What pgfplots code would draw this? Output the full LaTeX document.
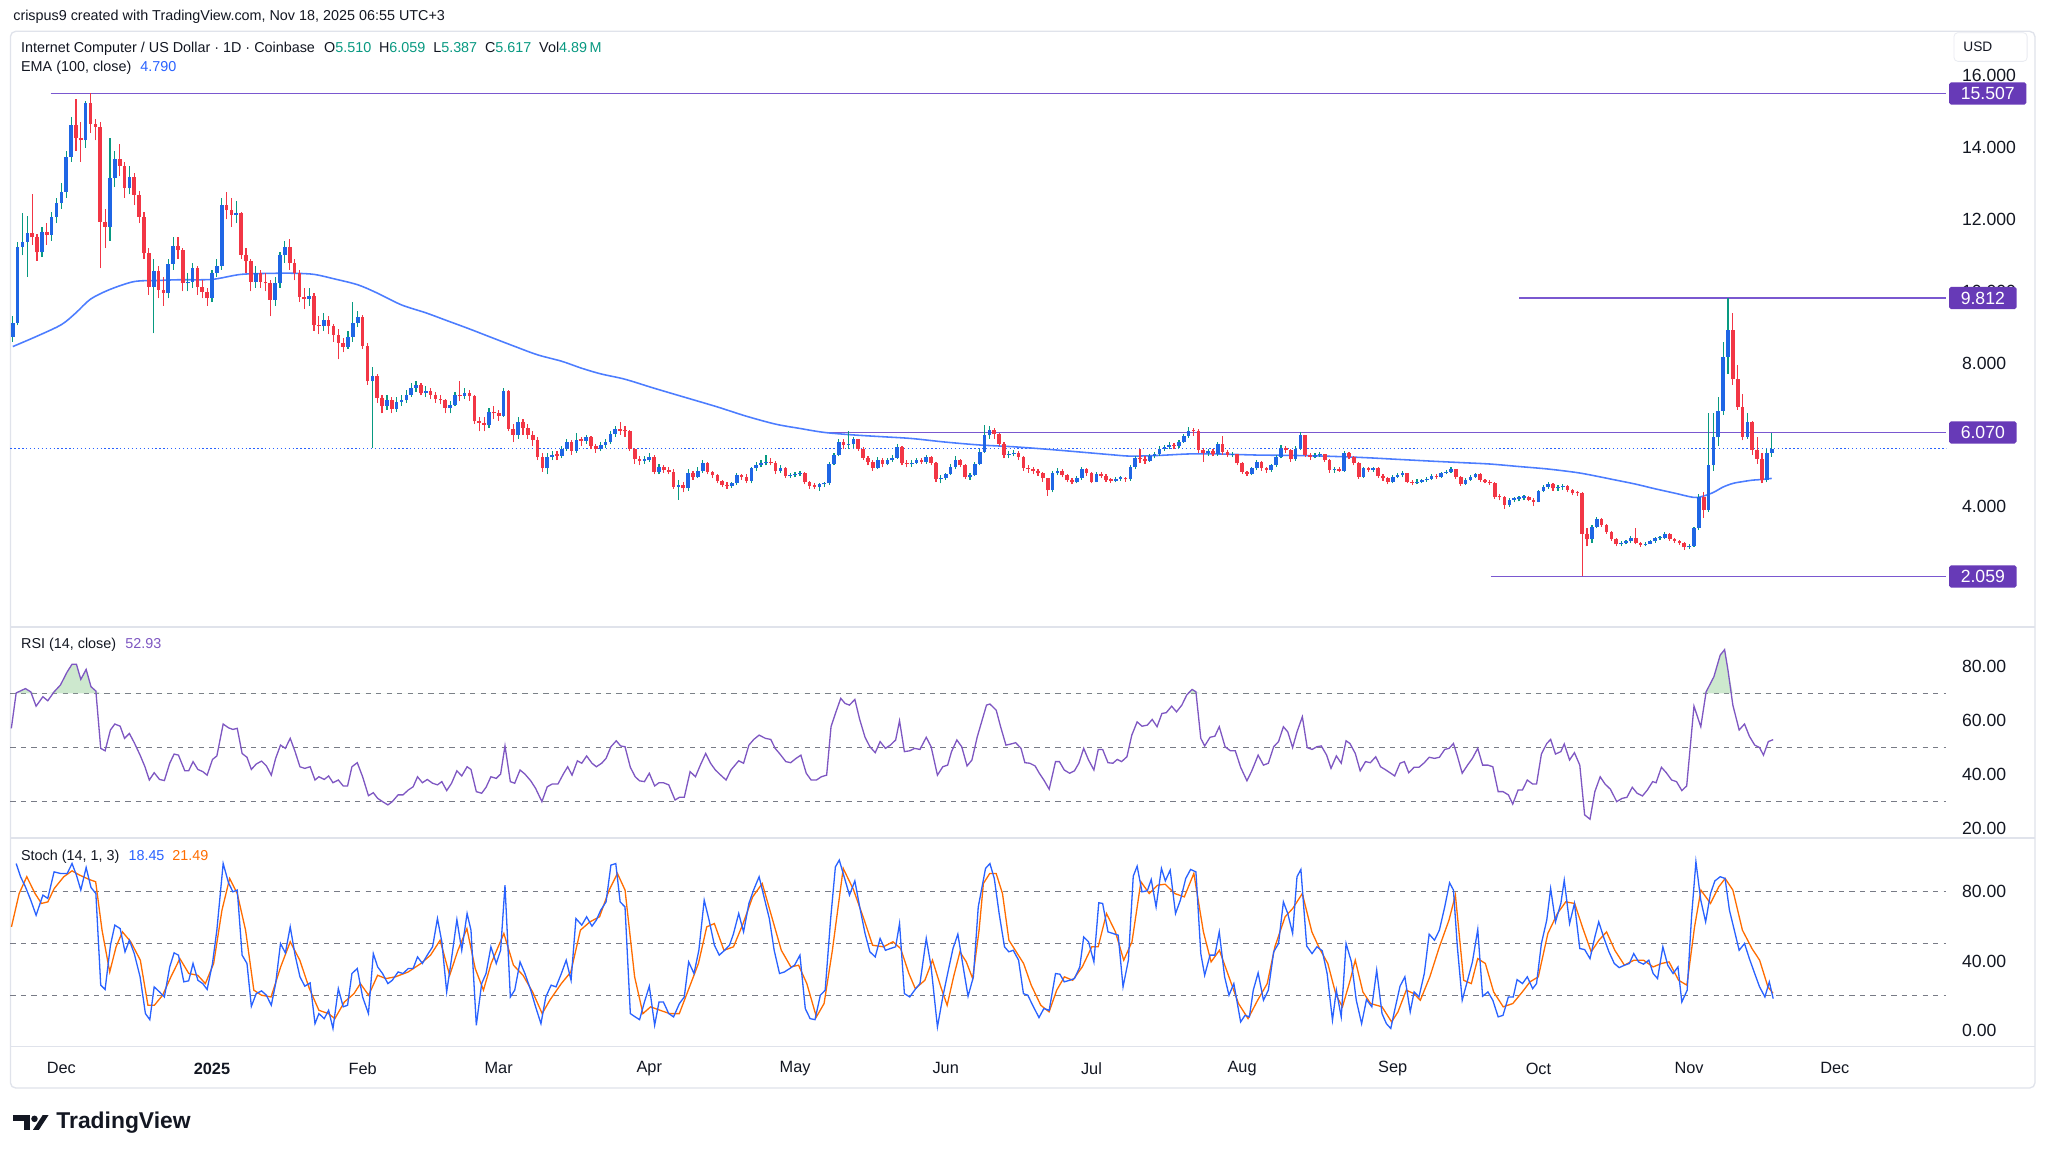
\documentclass[border=0pt]{standalone}
\usepackage{fontspec}
\setmainfont{Liberation Sans}
\usepackage{xcolor}
\usepackage{pgfplots}
\usepackage{pgfplotstable}
\pgfplotsset{compat=1.18}
\newcommand\fs[1]{\fontsize{#1}{#1}\selectfont}
\definecolor{tvtext}{HTML}{131722}
\definecolor{tvgrey}{HTML}{787B86}
\definecolor{tvborder}{HTML}{E0E3EB}
\definecolor{upbody}{HTML}{1F66E5}
\definecolor{upwick}{HTML}{089981}
\definecolor{downc}{HTML}{F23645}
\definecolor{emablue}{HTML}{4C7DFF}
\definecolor{lvl}{HTML}{7A58D0}
\definecolor{tagc}{HTML}{673AB7}
\definecolor{rsic}{HTML}{7E57C2}
\definecolor{stk}{HTML}{2962FF}
\definecolor{std}{HTML}{FF6D00}
\definecolor{valgreen}{HTML}{089981}
\definecolor{rsigreen}{HTML}{A5D6A7}

\pgfplotstableread{
d o h l c
-10 8.74 9.30 8.60 9.11
-9 9.11 11.38 9.05 11.24
-8 11.24 12.17 11.00 11.38
-7 11.38 12.10 10.41 11.63
-6 11.63 12.70 11.30 11.50
-5 11.50 11.60 10.85 11.08
-4 11.08 11.80 10.95 11.66
-3 11.66 11.90 11.30 11.57
-2 11.57 12.20 11.40 12.08
-1 12.08 12.60 11.90 12.45
0 12.45 13.00 12.30 12.77
1 12.77 13.90 12.60 13.75
2 13.75 14.85 13.60 14.63
3 14.63 15.35 13.90 14.26
4 14.26 14.70 13.60 14.20
5 14.20 15.30 14.00 15.23
6 15.23 15.507 14.40 14.67
7 14.67 14.80 14.20 14.58
8 14.58 14.70 10.64 11.94
9 11.94 12.30 11.20 11.80
10 11.80 14.26 11.40 13.14
11 13.14 13.90 12.90 13.67
12 13.67 14.10 13.20 13.49
13 13.49 13.60 12.60 12.87
14 12.87 13.50 12.70 13.17
15 13.17 13.30 12.40 12.68
16 12.68 12.80 11.90 12.08
17 12.08 12.20 10.90 11.06
18 11.06 11.20 9.90 10.13
19 10.13 10.90 8.83 10.55
20 10.55 10.70 9.80 10.04
21 10.04 10.40 9.60 9.95
22 9.95 10.90 9.80 10.76
23 10.76 11.50 10.60 11.26
24 11.26 11.50 10.90 11.15
25 11.15 11.20 10.00 10.22
26 10.22 10.50 10.00 10.27
27 10.27 10.80 10.10 10.64
28 10.64 10.70 9.90 10.13
29 10.13 10.30 9.80 9.99
30 9.99 10.10 9.60 9.81
31 9.81 10.60 9.70 10.50
32 10.50 10.90 10.40 10.69
33 10.69 12.60 10.60 12.40
34 12.40 12.75 12.00 12.26
35 12.26 12.60 11.80 12.12
36 12.12 12.50 11.90 12.17
37 12.17 12.20 10.90 11.01
38 11.01 11.20 10.50 10.83
39 10.83 10.90 10.00 10.27
40 10.27 10.70 10.10 10.50
41 10.50 10.60 10.10 10.27
42 10.27 10.50 10.00 10.22
43 10.22 10.30 9.30 9.76
44 9.76 10.40 9.60 10.22
45 10.22 11.10 10.10 11.01
46 11.01 11.40 10.80 11.24
47 11.24 11.45 10.60 10.78
48 10.78 10.90 10.30 10.50
49 10.50 10.60 9.70 9.85
50 9.85 10.10 9.50 9.78
51 9.78 10.10 9.60 9.87
52 9.87 9.95 8.90 9.06
53 9.06 9.30 8.80 9.02
54 9.02 9.40 8.90 9.20
55 9.20 9.30 8.80 9.02
56 9.02 9.10 8.60 8.79
57 8.79 8.95 8.10 8.56
58 8.56 8.70 8.30 8.46
59 8.46 8.90 8.40 8.74
60 8.74 9.70 8.60 9.11
61 9.11 9.45 9.00 9.28
62 9.28 9.35 8.40 8.48
63 8.48 8.55 7.40 7.49
64 7.49 7.90 5.63 7.63
65 7.63 7.70 6.90 7.03
66 7.03 7.10 6.60 6.80
67 6.80 7.10 6.70 6.98
68 6.98 7.05 6.60 6.72
69 6.72 7.05 6.65 6.93
70 6.93 7.10 6.80 6.96
71 6.96 7.25 6.90 7.12
72 7.12 7.45 7.05 7.31
73 7.31 7.50 7.20 7.40
74 7.40 7.45 7.10 7.18
75 7.18 7.35 7.05 7.22
76 7.22 7.30 7.00 7.12
77 7.12 7.20 6.90 7.00
78 7.00 7.10 6.85 6.96
79 6.96 7.00 6.60 6.75
80 6.75 6.95 6.60 6.84
81 6.84 7.20 6.80 7.12
82 7.12 7.50 6.95 7.08
83 7.08 7.30 7.00 7.16
84 7.16 7.25 6.95 7.07
85 7.07 7.10 6.30 6.38
86 6.38 6.50 6.10 6.33
87 6.33 6.50 6.10 6.29
88 6.29 6.75 6.20 6.63
89 6.63 6.80 6.45 6.60
90 6.60 6.70 6.40 6.53
91 6.53 7.30 6.50 7.21
92 7.21 7.25 6.10 6.17
93 6.17 6.30 5.80 6.00
94 6.00 6.50 5.90 6.35
95 6.35 6.45 6.00 6.20
96 6.20 6.30 5.90 6.00
97 6.00 6.10 5.70 5.87
98 5.87 5.95 5.30 5.39
99 5.39 5.50 4.98 5.07
100 5.07 5.50 4.90 5.39
101 5.39 5.55 5.30 5.44
102 5.44 5.55 5.30 5.42
103 5.42 5.70 5.35 5.62
104 5.62 5.90 5.55 5.81
105 5.81 5.85 5.45 5.56
106 5.56 6.05 5.50 5.86
107 5.86 5.95 5.70 5.84
108 5.84 6.00 5.75 5.93
109 5.93 5.98 5.60 5.69
110 5.69 5.75 5.50 5.62
111 5.62 5.80 5.55 5.72
112 5.72 5.90 5.65 5.81
113 5.81 6.10 5.75 6.02
114 6.02 6.25 5.95 6.17
115 6.17 6.35 6.00 6.12
116 6.12 6.25 5.95 6.10
117 6.10 6.15 5.55 5.60
118 5.60 5.65 5.20 5.32
119 5.32 5.40 5.15 5.28
120 5.28 5.40 5.20 5.30
121 5.30 5.50 5.25 5.39
122 5.39 5.45 4.90 4.97
123 4.97 5.20 4.90 5.11
124 5.11 5.15 4.95 5.02
125 5.02 5.10 4.90 4.98
126 4.98 5.05 4.50 4.56
127 4.56 4.75 4.19 4.60
128 4.60 4.70 4.40 4.51
129 4.51 5.05 4.45 4.95
130 4.95 5.00 4.75 4.82
131 4.82 5.10 4.80 5.00
132 5.00 5.30 4.95 5.21
133 5.21 5.25 4.90 4.97
134 4.97 5.00 4.80 4.88
135 4.88 4.90 4.65 4.72
136 4.72 4.75 4.55 4.60
137 4.60 4.68 4.50 4.57
138 4.57 4.70 4.52 4.65
139 4.65 4.95 4.60 4.88
140 4.88 4.92 4.75 4.84
141 4.84 4.90 4.65 4.72
142 4.72 5.12 4.65 5.07
143 5.07 5.25 5.00 5.16
144 5.16 5.30 5.10 5.22
145 5.22 5.45 5.15 5.25
146 5.25 5.35 5.15 5.22
147 5.22 5.27 4.90 4.99
148 4.99 5.15 4.95 5.09
149 5.09 5.12 4.80 4.85
150 4.85 4.95 4.80 4.88
151 4.88 4.98 4.82 4.91
152 4.91 5.00 4.85 4.93
153 4.93 4.97 4.62 4.68
154 4.68 4.72 4.50 4.58
155 4.58 4.65 4.50 4.56
156 4.56 4.66 4.45 4.62
157 4.62 4.70 4.55 4.65
158 4.65 5.25 4.60 5.20
159 5.20 5.50 5.15 5.44
160 5.44 5.90 5.40 5.81
161 5.81 5.90 5.60 5.72
162 5.72 6.12 5.60 5.74
163 5.74 5.95 5.65 5.88
164 5.88 5.90 5.55 5.62
165 5.62 5.66 5.30 5.37
166 5.37 5.42 5.15 5.25
167 5.25 5.30 5.00 5.09
168 5.09 5.38 5.05 5.30
169 5.30 5.35 5.10 5.19
170 5.19 5.35 5.15 5.30
171 5.30 5.45 5.25 5.37
172 5.37 5.75 5.33 5.67
173 5.67 5.70 5.15 5.21
174 5.21 5.30 5.10 5.19
175 5.19 5.30 5.12 5.23
176 5.23 5.35 5.18 5.30
177 5.30 5.35 5.20 5.25
178 5.25 5.45 5.20 5.39
179 5.39 5.42 5.15 5.22
180 5.22 5.25 4.70 4.76
181 4.76 4.88 4.65 4.79
182 4.79 4.95 4.75 4.91
183 4.91 5.18 4.88 5.11
184 5.11 5.42 5.05 5.30
185 5.30 5.32 5.10 5.16
186 5.16 5.20 4.78 4.82
187 4.82 4.95 4.75 4.88
188 4.88 5.25 4.85 5.20
189 5.20 5.60 5.15 5.53
190 5.53 6.27 5.50 5.99
191 5.99 6.25 5.90 6.14
192 6.14 6.20 5.90 6.02
193 6.02 6.05 5.70 5.76
194 5.76 5.80 5.35 5.44
195 5.44 5.55 5.35 5.47
196 5.47 5.58 5.40 5.50
197 5.50 5.55 5.30 5.39
198 5.39 5.42 5.00 5.09
199 5.09 5.15 4.95 5.05
200 5.05 5.10 4.90 4.99
201 4.99 5.05 4.85 4.93
202 4.93 4.97 4.70 4.79
203 4.79 4.80 4.30 4.46
204 4.46 5.00 4.40 4.93
205 4.93 5.08 4.88 5.00
206 5.00 5.05 4.82 4.88
207 4.88 4.92 4.68 4.74
208 4.74 4.80 4.62 4.70
209 4.70 4.85 4.65 4.79
210 4.79 5.10 4.75 5.04
211 5.04 5.08 4.87 4.93
212 4.93 4.96 4.65 4.70
213 4.70 4.96 4.68 4.91
214 4.91 4.98 4.80 4.86
215 4.86 4.90 4.70 4.74
216 4.74 4.80 4.66 4.72
217 4.72 4.82 4.68 4.78
218 4.78 4.85 4.72 4.80
219 4.80 4.84 4.70 4.76
220 4.76 5.15 4.72 5.11
221 5.11 5.42 5.05 5.35
222 5.35 5.60 5.22 5.32
223 5.32 5.40 5.20 5.28
224 5.28 5.46 5.25 5.41
225 5.41 5.52 5.35 5.46
226 5.46 5.68 5.40 5.62
227 5.62 5.72 5.55 5.67
228 5.67 5.80 5.60 5.72
229 5.72 5.78 5.60 5.69
230 5.69 5.86 5.65 5.81
231 5.81 6.02 5.78 5.97
232 5.97 6.22 5.92 6.12
233 6.12 6.18 5.98 6.10
234 6.10 6.16 5.50 5.58
235 5.58 5.65 5.25 5.50
236 5.50 5.62 5.42 5.55
237 5.55 5.60 5.40 5.46
238 5.46 5.80 5.42 5.76
239 5.76 5.97 5.45 5.53
240 5.53 5.58 5.38 5.44
241 5.44 5.52 5.38 5.46
242 5.46 5.48 5.15 5.21
243 5.21 5.25 4.92 4.97
244 4.97 5.00 4.85 4.91
245 4.91 5.12 4.88 5.07
246 5.07 5.30 5.02 5.25
247 5.25 5.28 5.00 5.07
248 5.07 5.10 4.95 5.02
249 5.02 5.20 4.98 5.16
250 5.16 5.45 5.12 5.39
251 5.39 5.72 5.35 5.65
252 5.65 5.70 5.50 5.58
253 5.58 5.60 5.25 5.32
254 5.32 5.70 5.28 5.62
255 5.62 6.08 5.58 5.99
256 5.99 6.00 5.38 5.44
257 5.44 5.50 5.30 5.38
258 5.38 5.50 5.35 5.43
259 5.43 5.52 5.38 5.46
260 5.46 5.48 5.25 5.30
261 5.30 5.32 4.95 5.02
262 5.02 5.10 4.95 5.04
263 5.04 5.10 4.98 5.00
264 5.00 5.55 4.98 5.50
265 5.50 5.52 5.32 5.39
266 5.39 5.42 5.15 5.22
267 5.22 5.25 4.78 4.83
268 4.83 5.12 4.80 5.07
269 5.07 5.12 4.98 5.03
270 5.03 5.12 4.98 5.07
271 5.07 5.10 4.80 4.85
272 4.85 4.90 4.72 4.79
273 4.79 4.82 4.62 4.69
274 4.69 4.88 4.65 4.83
275 4.83 4.95 4.80 4.88
276 4.88 5.00 4.82 4.93
277 4.93 4.95 4.65 4.69
278 4.69 4.75 4.60 4.66
279 4.66 4.76 4.62 4.70
280 4.70 4.78 4.66 4.74
281 4.74 4.82 4.70 4.78
282 4.78 4.90 4.75 4.85
283 4.85 4.90 4.78 4.82
284 4.82 4.98 4.80 4.94
285 4.94 5.02 4.90 4.98
286 4.98 5.12 4.95 5.04
287 5.04 5.06 4.78 4.83
288 4.83 4.86 4.58 4.63
289 4.63 4.80 4.60 4.75
290 4.75 4.88 4.72 4.83
291 4.83 4.95 4.80 4.91
292 4.91 4.93 4.70 4.74
293 4.74 4.78 4.65 4.70
294 4.70 4.74 4.60 4.66
295 4.66 4.68 4.22 4.28
296 4.28 4.35 4.18 4.26
297 4.26 4.30 3.95 4.05
298 4.05 4.25 4.00 4.20
299 4.20 4.28 4.12 4.22
300 4.22 4.30 4.15 4.25
301 4.25 4.32 4.18 4.28
302 4.28 4.30 4.15 4.20
303 4.20 4.24 4.02 4.14
304 4.14 4.48 4.12 4.44
305 4.44 4.60 4.40 4.55
306 4.55 4.68 4.50 4.63
307 4.63 4.66 4.45 4.51
308 4.51 4.60 4.45 4.55
309 4.55 4.62 4.48 4.57
310 4.57 4.60 4.40 4.46
311 4.46 4.50 4.32 4.38
312 4.38 4.45 4.30 4.37
313 4.37 4.40 2.059 3.24
314 3.24 3.40 2.90 3.09
315 3.09 3.50 3.00 3.44
316 3.44 3.72 3.40 3.67
317 3.67 3.70 3.45 3.49
318 3.49 3.52 3.25 3.30
319 3.30 3.32 3.05 3.09
320 3.09 3.12 2.90 2.96
321 2.96 3.05 2.90 2.99
322 2.99 3.08 2.95 3.04
323 3.04 3.18 3.00 3.14
324 3.14 3.40 2.95 2.99
325 2.99 3.02 2.88 2.93
326 2.93 3.02 2.90 2.97
327 2.97 3.08 2.95 3.04
328 3.04 3.16 3.00 3.12
329 3.12 3.18 3.08 3.14
330 3.14 3.30 3.10 3.25
331 3.25 3.28 3.05 3.10
332 3.10 3.14 3.00 3.06
333 3.06 3.08 2.94 2.99
334 2.99 3.02 2.80 2.87
335 2.87 2.95 2.82 2.90
336 2.90 3.45 2.88 3.40
337 3.40 4.35 3.35 4.26
338 4.26 4.40 3.70 3.91
339 3.91 6.60 3.85 5.16
340 5.16 6.60 5.00 5.93
341 5.93 7.05 5.70 6.67
342 6.67 8.60 6.55 8.18
343 8.18 9.812 7.70 8.92
344 8.92 9.40 7.40 7.55
345 7.55 7.95 6.70 6.78
346 6.78 7.15 5.85 5.95
347 5.95 6.60 5.90 6.37
348 6.37 6.40 5.45 5.58
349 5.58 5.95 5.20 5.34
350 5.34 5.50 4.65 4.74
351 4.74 5.62 4.68 5.51
352 5.51 6.059 5.387 5.617
}\ohlc

\pgfplotstableread{
d v
-10 8.46
-5 8.75
0 9.07
3 9.40
6 9.78
10 10.05
15 10.27
20 10.30
24 10.32
31 10.33
37 10.47
44 10.50
48 10.50
52 10.47
56 10.35
61 10.18
65 9.95
70 9.62
75 9.40
79 9.20
84 8.95
88 8.74
93 8.48
98 8.23
103 8.05
107 7.86
111 7.70
116 7.55
122 7.30
129 7.02
135 6.78
141 6.52
147 6.30
152 6.18
157 6.07
163 6.00
169 5.95
175 5.90
182 5.80
189 5.72
196 5.67
203 5.60
210 5.52
216 5.45
220 5.41
226 5.43
232 5.47
238 5.47
246 5.44
253 5.43
260 5.41
268 5.37
275 5.32
282 5.27
288 5.23
294 5.19
300 5.12
306 5.05
312 4.95
316 4.85
320 4.74
324 4.63
328 4.50
332 4.38
336 4.26
338 4.30
340 4.40
342 4.55
344 4.65
346 4.70
348 4.74
350 4.76
352 4.79
}\ema

\pgfplotstableread{
d v
-10.3 57.1
-9.3 70.2
-7.4 71.8
-6.3 70.6
-5.2 65.3
-3.8 68.8
-2.8 67.3
-1.5 70.6
-0.2 73.1
1.2 78
2.2 80.8
3.1 80.8
4 75.2
5.1 78.9
6.1 72.5
7.1 70.9
8.1 49.7
9 48.8
10.1 56.5
11 58.7
12.1 57.9
13 53.4
14 55.2
15 51.8
16.2 47.2
17.2 42.9
18.1 38
19.1 40.7
20.2 38.2
21.2 37.8
22.3 44.2
23.2 47.6
24.1 47.2
25.4 41.4
26.2 41.4
27.1 44.8
28.1 41.9
29.1 41.1
30 39.8
31.1 45.6
32 46.9
33.3 58.7
34.4 57.3
35.3 56.7
36.2 57.1
37.2 47.8
38.2 46.4
39.1 41.9
40.1 43.9
41.2 45
42.2 43.2
43.2 39.8
44.1 46
45.1 50.9
46.1 49.7
47.1 53.4
48.1 48.5
49.1 42.9
50.1 42.3
51.2 42.9
52.2 38
53 39.2
54.1 38.2
55 39.5
55.9 37
57 38
58 35.8
58.9 35.8
59.8 42.9
60.9 44.4
62 39.2
63.2 32.2
64.2 33.3
65.1 31.2
66.1 30
67.2 28.8
68.1 30
69.3 32.5
70.3 32.5
71.4 34.3
72.4 35.5
73.3 39.2
74.3 37
75.3 38.2
76.4 36.8
77.4 36.2
78.3 37.4
79.3 34.1
80.3 36.8
81.4 41.4
82.4 39.5
83.5 42.9
84.3 41.9
85.4 33.7
86.5 33.1
87.4 35.3
88.4 39.2
89.5 38.6
90.4 40.2
91.3 50.6
92.4 37.4
93.3 36.8
94.4 41.7
95.4 40.2
96.6 37.7
97.6 34.9
98.9 30
100 35.5
101 36.5
102.2 36.5
103.3 40.2
104.2 42.9
105.1 39.8
106.2 45.1
107.1 44.2
108.1 46.9
109.2 44.2
110.1 42.9
111.2 44.2
112.1 46
113.1 50.3
114.2 52.5
115.1 50.6
116 50.3
117.1 42.7
118.1 39.2
119 37.7
120 37.4
121 40.5
122.1 35.8
123 37
123.9 37
125 36.2
126.3 30.6
127.2 31.6
128.2 31.6
129.4 41.1
130.5 39.2
131.5 43.5
132.6 47.8
133.6 44.2
134.6 41.7
135.7 39.8
136.8 38
137.8 41.7
139.4 45.1
140.4 44.2
141.5 50.9
142.5 53
143.6 54.6
144.9 53.4
146 53
146.9 49.7
147.8 47.8
149.1 44.8
150.1 44.4
151.2 46
152.2 47.2
153.3 40.5
154.3 38
155.4 38
156.4 39.2
157.5 39.8
158.4 57.7
159.3 62.6
160.4 68.2
161.3 66.3
162.2 65.7
163.3 67.8
164.3 60.4
165.4 53.8
166.4 50.3
167.5 48.1
168.5 52.2
169.6 49.7
170.6 50.9
171.7 52.8
172.5 59.9
173.5 48.5
174.6 48.8
175.6 49.7
176.7 49.3
178 53.8
179 50.3
180.3 39.8
181.4 42.9
182.4 43.5
183.2 48.5
184.3 52.8
185.3 50.3
186.4 43.2
187.4 45.4
188.5 54
190.4 65.7
191.1 66.1
192.4 63.8
193.3 57.7
194.4 50.9
195.4 51.3
196.4 51.8
197.5 49.7
198.3 44.4
199.3 44.2
200.4 43.2
201.2 40.7
202.2 38
203.3 34.6
204.6 44.8
205.4 44.8
206.4 41.7
207.5 40.5
208.5 41.4
209.4 44.2
210.4 49.7
211.4 45.4
212.5 41.7
213.4 49.3
214.3 49.3
215.4 44.4
216.4 44.2
217.3 45.6
218.2 44.8
219.3 46.6
220.3 54.6
221.4 59.5
222.4 57.9
223.5 58.3
224.5 60.4
225.5 57.7
226.5 62.6
227.4 62.9
228.5 65.3
229.5 63.2
230.6 65.7
231.6 69.4
232.7 71.5
233.5 70.6
234.5 53.4
235.3 50.6
236.4 53.8
237.4 54.2
238.3 57.7
239.5 50.3
240.6 48.8
241.6 48.8
242.7 42.7
244 37.7
245 41.4
246.3 47.2
247.4 43.5
248.4 44.2
249.5 50.3
250.5 52.2
251.5 57.7
252.4 55.8
253.4 50
254.3 55.8
255.4 61.4
256.4 50
257.4 49.3
258.4 50.3
259.3 50.6
260.4 47.2
261.3 42.3
262.4 46.9
263.4 44.2
264.4 52.5
265.2 51.5
266.3 47.8
267.3 41.4
268.4 44.8
269.4 44.4
270.5 46.6
271.5 42.9
272.6 41.7
273.6 40.5
274.4 39.5
275.5 44.2
276.4 44.8
277.3 40.7
278.4 42.7
279.4 42.7
280.5 44.4
281.5 46.4
282.6 46
283.6 46.4
284.7 49.3
285.6 49.7
286.5 51.5
287.3 46.9
288.3 40.5
289.4 43.5
290.4 46
291.5 49.7
292.5 43.5
293.6 43.5
294.6 42.9
295.7 33.7
296.7 33.7
297.8 32.5
298.7 29.1
299.8 34.3
300.7 34.3
301.7 38
302.8 36.5
303.6 36.5
304.6 47.6
305.7 51.5
306.5 53
307.5 47.6
308.6 48.5
309.3 51.3
310.4 45.4
311.4 48.1
312.5 43.5
313.5 25.1
314.6 23.5
315.6 33.7
316.7 39.2
317.7 36.5
318.8 34.6
320.1 30
321.2 31.2
322.2 31.6
323.3 35.3
324.3 33.1
325.4 32.1
326.4 34.3
327.5 37.4
328.2 37
329.3 42.7
330.3 40.7
331.4 38
332.4 37.4
333.5 34.1
334.5 35.8
336 65.3
337.4 57.7
338.5 70.6
340.1 76.2
341.4 84.2
342.3 86.2
343 78.6
344 65.7
345.3 56.5
346.4 58.7
347.4 54.2
348.5 50.9
349.5 50
350.3 47.2
351.3 52.2
352.3 52.93
}\rsi

\pgfplotstableread{
d v
-9.3 96.3
-8.4 88.7
-7.4 82.9
-6.3 75.2
-5.2 66.5
-3.8 78.1
-2.8 76.2
-1.5 91.5
-0.2 90.6
1.2 90.6
2.2 96.3
3.1 89.6
4 81
5.1 94
6.1 82.5
7.1 79
8.1 26.2
9 23.7
10.1 49.2
11 60.8
12.1 58.8
13.1 45.4
14 52.1
15 44.4
16.2 31
17.3 9.8
18.2 6.3
19.1 25.2
20.2 22.3
21.2 19.4
22.3 36.7
23.2 44.8
24.1 43.5
25.2 28.1
26.2 28.7
27.1 38.7
28.1 29
29.1 27.1
30 23.7
31.1 38.7
32 57.9
33.3 96.3
34.4 85.2
35.3 80
36.2 81
37.2 43.5
38.2 38.7
39.1 14
40.1 21.3
41.2 22.9
42.2 20.4
43.2 14.6
44.1 27.1
45.1 50.2
46.1 44.8
47.1 59.8
48.1 43.5
49.1 31
50.1 25.6
51.2 27.5
52.2 4
53 9.8
54.1 6.9
55 11.7
55.9 1.2
57 24.2
58 13.7
58.9 14.6
59.8 32.9
60.9 35.8
62 19.4
63.2 9.8
64.2 44.4
65.1 36.7
66.1 32.9
67.2 27.1
68.1 29
69.3 33.8
70.3 32.9
71.4 35.8
72.4 35.8
73.3 42.5
74.3 38.7
75.3 43.5
76.4 48.3
77.4 64.6
78.3 51.2
79.3 22.3
80.3 41.5
81.4 64
82.4 46.3
83.5 67.5
84.3 57.9
85.4 3.1
86.5 27.1
87.4 32.9
88.4 48.3
89.5 38.7
90.4 46.3
91.3 83.8
92.4 19.4
93.3 23.3
94.4 39.6
95.4 32.9
96.6 23.3
97.6 13.7
98.7 4
99.7 19.4
100.8 26.2
101.8 25.2
102.9 32.9
103.9 40.6
104.9 29
105.9 64.6
107.1 60.8
108.1 65.6
109.2 60.2
110.1 63.7
111 69.4
112.1 74.2
113.1 95.4
114.1 96.3
115 74.2
116 71.3
117.1 9.8
118.1 7.9
119 6.3
120 16.5
121 25.6
122.1 3.1
123 16.5
123.9 16.5
125 9.8
126 7.9
127.2 15.6
128.2 19.4
129.1 39.6
130.2 32.9
131.2 46.3
132.3 75.2
133.3 63.7
134.4 49.2
135.4 43.5
136.5 46.3
137.5 49.2
138.3 55.6
139.4 67.5
140.4 56.9
141.5 73.3
142.5 81.3
143.6 88.7
144.6 77.1
145.7 64.6
146.7 46.3
147.8 32.9
148.8 33.8
149.9 35.8
150.9 37.7
152 43.5
153.1 12.7
154.1 6.9
155.1 6.3
156.2 20.4
157.2 23.3
158.3 63.7
159.3 94.4
160.1 98.3
161.2 87.7
162.2 78.1
163.3 86.3
164.3 71.3
165.4 56
166.4 45.4
167.5 42.5
168.5 53.1
169.6 46.3
170.6 47.3
171.7 48.3
172.5 61.7
173.5 21.3
174.6 19.4
175.6 23.3
176.7 27.1
178 53.1
179 36.7
180.3 2.1
181.4 19.4
182.4 32.9
183.5 47.3
184.5 55.6
185.6 36.7
186.6 19.8
187.7 31
188.7 71.3
190.2 93.5
191.1 96.3
192 87.7
193 67.5
194.1 48.3
195 45.4
195.9 46.3
197 40.6
198 21.3
198.9 20.4
199.9 14.6
201.2 7.5
202.2 12.7
203.3 11.7
204.6 32.9
205.5 32.5
206.4 28.1
207.5 29
208.5 30
209.6 36.7
210.4 54
211.4 51.2
212.5 39.6
213.5 73.7
214.3 73.3
215.4 56.9
216.4 56
217.5 55
218.5 25.2
219.6 40.6
220.6 89
221.4 94.8
222.4 80
223.5 80.6
224.3 87.1
225.3 71.3
226.4 93.5
227.2 86.3
228.2 92.5
229.3 67.5
230.3 75.2
231.4 87.7
232.4 92.9
233.5 91.5
234.5 44.4
235.3 31.9
236.4 43.5
237.4 43.5
238.3 56.9
239.4 31
240.3 20.4
241.3 27.1
242.7 5
243.6 8.8
244.5 7.9
245.3 23.3
246.3 33.3
247.4 17.5
248.4 23.3
249.5 45.4
250.5 50.2
251.5 74.2
252.4 67.5
253.4 56
254.3 88.7
255.1 92.9
256.3 48.7
257.4 44.4
258.4 48.3
259.5 46
260.5 32.9
261.6 6
262.4 23.3
263.4 7.9
264.4 50.2
265.5 39.6
266.5 17.5
267.6 4
268.6 17.9
269.7 13.7
270.7 34.8
271.8 9.8
272.7 4
273.6 1.2
274.4 11.7
275.5 25.6
276.5 31
277.6 10.8
278.4 22.3
279.4 19.4
280.5 32.9
281.5 55.6
282.6 52.1
283.6 57.9
284.7 71.3
285.7 85.2
286.5 81
287.3 48.3
288.3 17.5
289.4 29
290.4 39.6
291.5 58.3
292.5 19.8
293.6 22.3
294.6 17.5
295.7 7.9
296.7 8.8
297.8 19.4
298.8 19.4
299.6 29.4
300.7 27.1
301.7 31
302.8 24.2
303.6 27.1
304.6 50.2
305.7 63.7
306.5 81.9
307.5 62.7
308.6 73.3
309.3 86.7
310.4 61.7
311.4 73.3
312.5 47.3
313.5 46.7
314.6 41.5
315.6 54
316.4 62.7
317.5 53.1
318.5 45.4
319.6 38.7
320.6 36.3
321.7 37.7
322.7 38.7
323.6 44.4
324.6 39.6
325.6 38.3
326.7 40.6
327.6 32.9
328.5 30
329.6 48.3
330.6 37.7
331.7 32.9
332.7 36.7
333.5 16.5
334.6 23.3
335.5 65.6
336.4 97.3
337.4 75.2
338.4 62.7
339.4 79
340.3 86.3
341.4 88.7
342.4 87.7
343.3 69.4
344.3 57.9
345.3 46.3
346.4 50.2
347.4 41.5
348.5 32.9
349.5 25.2
350.6 19.4
351.5 28.1
352.3 18.45
}\stochk

\pgfplotstableread{
d v
-10.27 59.8
-8.69 79
-7.12 88.7
-5.41 79
-4.10 73.3
-2.78 74.2
-1.47 81.9
0.5 88.7
2.2 92.1
3.78 89.6
5.75 87.1
7.06 85.8
8.37 57.9
9.95 33.8
11.26 48.3
12.57 56.9
14.28 51.2
16.25 40.6
17.82 14.6
19.14 14.6
20.84 20.4
22.55 31
24.39 41.5
26.23 32.9
28.06 31.9
29.64 27.1
31.34 38.7
33.05 69.4
34.63 87.7
36.2 79
37.91 57.9
39.61 23.3
41.19 20.4
43.16 19.4
45.13 36.7
47.1 51.2
49.07 40.6
51.04 24.2
53.0 11.7
54.97 9.8
56.29 6.9
58.25 16.5
60.22 21.3
61.54 27.1
63.24 20.4
65.08 31.9
66.79 30
68.76 31
71.38 33.8
74.0 38.7
75.98 43.5
77.95 52.1
79.91 31.9
81.62 46.3
83.46 58.8
85.17 35.8
86.87 23.3
88.45 38.7
91.07 56
93.04 37.7
95.01 31.9
96.98 22.3
98.95 9.8
100.52 17.5
102.89 27.1
104.85 33.8
106.82 57.9
108.79 62.7
110.76 65.6
112.73 81
114.44 90.6
116.01 81
117.98 31
119.69 9.8
121.27 13.7
123.23 11.7
125.2 9.8
127.17 9.8
129.14 24.2
131.11 38.7
132.82 59.8
134.39 61.7
136.36 46.3
138.33 48.3
140.3 61.7
142.27 77.1
144.24 84.8
146.2 65.6
148.17 46.3
150.14 36.7
151.72 37.7
153.42 27.1
155.39 7.9
156.97 15.6
158.68 46.3
160.91 93.5
163.01 81.3
165.24 63.7
166.95 49.2
169.18 48.3
171.15 51.2
172.73 47.3
174.43 32.9
175.74 24.2
177.71 29
179.28 40.6
180.99 25.2
182.3 14.6
183.62 31
184.93 45.4
186.24 39.6
187.55 30
188.87 57.9
189.76 84.8
191.07 90.6
192.38 90.6
193.69 79
195.01 52.1
196.32 46.3
198.03 38.7
199.6 26.2
201.57 14.6
203.28 10.8
204.85 23.3
206.43 31
208.13 29
210.1 36.7
212.07 48.3
213.38 48.3
215.09 67.5
216.93 56.9
218.64 40.6
220.34 51.2
222.18 85.8
223.89 79
225.59 83.8
227.17 84.4
229.14 79
231.11 77.1
233.07 90.6
235.04 56.9
236.62 39.6
238.33 46.3
240.29 31
242.26 15.6
244.23 6.9
246.2 17.5
248.17 27.1
249.75 48.3
251.85 65.6
253.42 70.4
255.39 79
257.36 56.9
258.93 47.3
260.64 38.7
262.35 20.4
263.66 13.7
265.24 29
266.29 40.6
267.86 22.3
269.44 15.6
271.8 13.7
273.77 5
275.08 10.8
276.79 23.3
278.36 21.3
279.68 17.5
281.64 31
283.61 48.3
285.58 63.7
286.9 78.1
288.6 29
290.18 27.1
291.49 41.5
293.06 38.7
294.77 22.3
296.74 13.7
298.71 15.6
300.68 22.3
302.25 28.1
303.96 31
305.93 56
307.9 67.5
309.6 74.2
311.44 73.3
313.15 58.8
314.85 45.4
316.43 52.1
318.01 56.9
319.71 46.3
321.68 37.7
323.65 40.6
325.62 40.6
327.59 36.7
329.3 38.7
330.87 39.6
332.84 29
334.54 26.2
336.12 59.8
337.43 81
339.4 73.3
341.11 82.9
342.42 87.7
344 81
345.97 57.9
347.94 47.3
349.51 40.6
351.22 25.2
352.27 21.49
}\stochd

\begin{document}
\begin{tikzpicture}[x=1pt,y=1pt]
\fill[white] (0,0) rectangle (1568,887);
\draw[tvborder, line width=1pt, rounded corners=4pt] (8,54) rectangle (1558,863);
\draw[tvborder, line width=1.6pt] (8,407) -- (1558,407);
\draw[tvborder, line width=1.6pt] (8,245.5) -- (1558,245.5);
\draw[tvborder, line width=0.8pt] (8,86) -- (1558,86);

\node[anchor=west, inner sep=0, font=\fs{11}, text=tvtext] at (10,874) {crispus9 created with TradingView.com, Nov 18, 2025 06:55 UTC+3};

% ---------------- price pane
\begin{axis}[
  at={(8pt,407pt)}, anchor=south west, scale only axis,
  width=1482pt, height=456pt,
  xmin=-10.48, xmax=387.9, ymin=0.6545, ymax=17.236,
  axis line style={draw=none}, xtick=\empty,
  ytick={4,8,12,14},
  yticklabels={4.000,8.000,12.000,14.000},
  yticklabel pos=right, major tick length=0pt, ytick style={draw=none},
  yticklabel style={anchor=west, inner sep=0pt, xshift=12pt, font=\fs{13.5}, text=tvtext},
  clip=false,
]
\addplot[lvl, line width=1.1pt, forget plot] coordinates {(-2.2,15.507) (387.9,15.507)};
\addplot[lvl, line width=1.1pt, forget plot] coordinates {(300,9.812) (387.9,9.812)};
\addplot[lvl, line width=1.1pt, forget plot] coordinates {(157,6.070) (387.9,6.070)};
\addplot[lvl, line width=1.1pt, forget plot] coordinates {(294.2,2.059) (387.9,2.059)};
\addplot[stk, line width=0.8pt, dash pattern=on 1pt off 2pt, forget plot] coordinates {(-10.48,5.617) (387.9,5.617)};
\addplot[emablue, line width=1.2pt, smooth, forget plot] table[x=d, y=v] {\ema};
\addplot[draw=none, no markers, forget plot,
  restrict expr to domain={\thisrow{c}-\thisrow{o}}{0:100},
  error bars/.cd, y dir=plus, y explicit, error mark=none,
  error bar style={line width=0.9pt, draw=upwick, solid}]
  table[x=d, y=l, y error plus expr={\thisrow{h}-\thisrow{l}}] {\ohlc};
\addplot[draw=none, no markers, forget plot,
  restrict expr to domain={\thisrow{c}-\thisrow{o}}{-100:-0.0001},
  error bars/.cd, y dir=plus, y explicit, error mark=none,
  error bar style={line width=0.9pt, draw=downc, solid}]
  table[x=d, y=l, y error plus expr={\thisrow{h}-\thisrow{l}}] {\ohlc};
\addplot[draw=none, no markers, forget plot,
  restrict expr to domain={\thisrow{c}-\thisrow{o}}{0:100},
  error bars/.cd, y dir=plus, y explicit, error mark=none,
  error bar style={line width=2.8pt, draw=upbody, solid}]
  table[x=d, y=o, y error plus expr={max(\thisrow{c}-\thisrow{o},0.04)}] {\ohlc};
\addplot[draw=none, no markers, forget plot,
  restrict expr to domain={\thisrow{c}-\thisrow{o}}{-100:-0.0001},
  error bars/.cd, y dir=plus, y explicit, error mark=none,
  error bar style={line width=2.8pt, draw=downc, solid}]
  table[x=d, y=c, y error plus expr={max(\thisrow{o}-\thisrow{c},0.04)}] {\ohlc};
% price-scale labels that the tags partly cover
\node[anchor=west, inner sep=0pt, xshift=12pt, font=\fs{13.5}, text=tvtext] at (axis cs:387.9,16) {16.000};
\node[anchor=west, inner sep=0pt, xshift=12pt, font=\fs{13.5}, text=tvtext] at (axis cs:387.9,10) {10.000};
\node[anchor=west, inner sep=0pt, xshift=12pt, font=\fs{13.5}, text=tvtext] at (axis cs:387.9,6) {6.000};
\node[anchor=west, inner sep=0pt, xshift=12pt, font=\fs{13.5}, text=tvtext] at (axis cs:387.9,2) {2.000};
% tags
\node[anchor=west, xshift=2pt, fill=tagc, text=white, font=\fs{13.5}, inner xsep=9pt, inner ysep=0pt, minimum height=17pt, rounded corners=1.5pt] at (axis cs:387.9,15.507) {15.507};
\node[anchor=west, xshift=2pt, fill=tagc, text=white, font=\fs{13.5}, inner xsep=9pt, inner ysep=0pt, minimum height=17pt, rounded corners=1.5pt] at (axis cs:387.9,9.812) {9.812};
\node[anchor=west, xshift=2pt, fill=tagc, text=white, font=\fs{13.5}, inner xsep=9pt, inner ysep=0pt, minimum height=17pt, rounded corners=1.5pt] at (axis cs:387.9,6.070) {6.070};
\node[anchor=west, xshift=2pt, fill=tagc, text=white, font=\fs{13.5}, inner xsep=9pt, inner ysep=0pt, minimum height=17pt, rounded corners=1.5pt] at (axis cs:387.9,2.059) {2.059};
\end{axis}

% ---------------- RSI pane
\begin{axis}[
  at={(8pt,245.5pt)}, anchor=south west, scale only axis,
  width=1482pt, height=161.5pt,
  xmin=-10.48, xmax=387.9, ymin=16.6, ymax=94.6,
  axis line style={draw=none}, xtick=\empty,
  ytick={20,40,60,80}, yticklabels={20.00,40.00,60.00,80.00},
  yticklabel pos=right, major tick length=0pt, ytick style={draw=none},
  yticklabel style={anchor=west, inner sep=0pt, xshift=12pt, font=\fs{13.5}, text=tvtext},
  extra y ticks={30,50,70}, extra y tick labels={},
  extra y tick style={grid=major, major grid style={tvgrey, line width=0.8pt, dash pattern=on 4pt off 4pt}},
  clip=false,
]
\addplot[fill=rsigreen, fill opacity=0.55, draw=none, forget plot] table[x=d, y expr={max(\thisrow{v},70)}] {\rsi} -- (axis cs:352.3,70) -- (axis cs:-10.3,70) -- cycle;
\addplot[rsic, line width=1pt, forget plot] table[x=d, y=v] {\rsi};
\end{axis}

% ---------------- Stoch pane
\begin{axis}[
  at={(8pt,86pt)}, anchor=south west, scale only axis,
  width=1482pt, height=159.5pt,
  xmin=-10.48, xmax=387.9, ymin=-9.0, ymax=111.1,
  axis line style={draw=none},
  xtick={0,31,62,90,121,151,182,212,243,274,304,335,365},
  xticklabels={Dec,\textbf{2025},Feb,Mar,Apr,May,Jun,Jul,Aug,Sep,Oct,Nov,Dec},
  xtick style={draw=none},
  xticklabel style={anchor=center, yshift=-17pt, font=\fs{12.5}, text=tvtext},
  ytick={0,40,80}, yticklabels={0.00,40.00,80.00},
  yticklabel pos=right, major tick length=0pt, ytick style={draw=none},
  yticklabel style={anchor=west, inner sep=0pt, xshift=12pt, font=\fs{13.5}, text=tvtext},
  extra y ticks={20,50,80}, extra y tick labels={},
  extra y tick style={grid=major, major grid style={tvgrey, line width=0.8pt, dash pattern=on 4pt off 4pt}},
  clip=false,
]
\addplot[std, line width=1pt, forget plot] table[x=d, y=v] {\stochd};
\addplot[stk, line width=1pt, forget plot] table[x=d, y=v] {\stochk};
\end{axis}

\node[anchor=west, inner sep=0, font=\fs{11}, text=tvtext] at (16,850) {Internet Computer / US Dollar · 1D · Coinbase\hspace{7pt}O\textcolor{valgreen}{5.510}\hspace{6pt}H\textcolor{valgreen}{6.059}\hspace{6pt}L\textcolor{valgreen}{5.387}\hspace{6pt}C\textcolor{valgreen}{5.617}\hspace{6pt}Vol\textcolor{valgreen}{4.89\,M}};
\node[anchor=west, inner sep=0, font=\fs{11}, text=tvtext] at (16,835) {EMA (100, close)\hspace{7pt}\textcolor{stk}{4.790}};
\node[anchor=west, inner sep=0, font=\fs{11}, text=tvtext] at (16,393) {RSI (14, close)\hspace{7pt}\textcolor{rsic}{52.93}};
\node[anchor=west, inner sep=0, font=\fs{11}, text=tvtext] at (16,231) {Stoch (14, 1, 3)\hspace{7pt}\textcolor{stk}{18.45}\hspace{6pt}\textcolor{std}{21.49}};
\draw[tvborder!70, line width=0.6pt, rounded corners=3pt, fill=white] (1496,840) rectangle (1552,862);
\node[anchor=west, inner sep=0, font=\fs{10.5}, text=tvtext] at (1503,851) {USD};

% TradingView logo
\fill[tvtext] (10,28.6) rectangle (23,33.3);
\fill[tvtext] (18,22) rectangle (23,33.3);
\fill[tvtext] (26.4,30.4) circle (2.5);
\fill[tvtext] (25.3,22) -- (29.8,22) -- (37.2,33.3) -- (32.7,33.3) -- cycle;
\node[anchor=west, inner sep=0, font=\fs{17.5}\bfseries, text=tvtext] at (43,27.6) {TradingView};
\end{tikzpicture}
\end{document}
